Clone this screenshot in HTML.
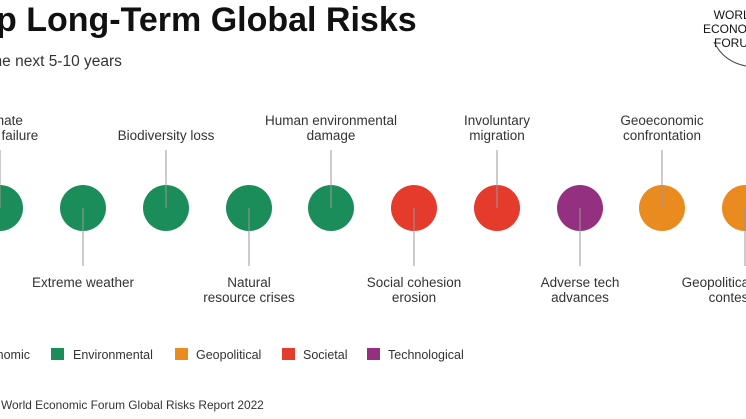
<!DOCTYPE html>
<html><head><meta charset="utf-8"><style>
html,body{margin:0;padding:0;background:#fff;overflow:hidden}
svg{display:block;font-family:"Liberation Sans",Arial,sans-serif}
</style></head><body>
<svg width="746" height="419" viewBox="0 0 746 419" xmlns="http://www.w3.org/2000/svg">
<text x="-43" y="31" font-size="34" font-weight="bold" fill="#111">Top Long-Term Global Risks</text>
<text x="-28" y="66" font-size="15.5" fill="#333">In the next 5-10 years</text>
<g font-size="12" fill="#111" text-anchor="middle">
<text x="736" y="19">WORLD</text><text x="736" y="33">ECONOMIC</text><text x="736" y="47">FORUM</text>
</g>
<path d="M714 42 Q724 62 746 66" stroke="#444" fill="none" stroke-width="1"/>
<g>
<circle cx="0" cy="208" r="23" fill="#1b8d5b"/>
<circle cx="83" cy="208" r="23" fill="#1b8d5b"/>
<circle cx="166" cy="208" r="23" fill="#1b8d5b"/>
<circle cx="249" cy="208" r="23" fill="#1b8d5b"/>
<circle cx="331" cy="208" r="23" fill="#1b8d5b"/>
<circle cx="414" cy="208" r="23" fill="#e43b2d"/>
<circle cx="497" cy="208" r="23" fill="#e43b2d"/>
<circle cx="580" cy="208" r="23" fill="#93307f"/>
<circle cx="662" cy="208" r="23" fill="#e98b1f"/>
<circle cx="745" cy="208" r="23" fill="#e98b1f"/>
</g>
<g stroke="#999" stroke-width="1">
<line x1="166" y1="150" x2="166" y2="208"/><line x1="331" y1="150" x2="331" y2="208"/>
<line x1="497" y1="150" x2="497" y2="208"/><line x1="662" y1="150" x2="662" y2="208"/>
<line x1="0" y1="150" x2="0" y2="208"/>
<line x1="83" y1="208" x2="83" y2="266"/><line x1="249" y1="208" x2="249" y2="266"/>
<line x1="414" y1="208" x2="414" y2="266"/><line x1="580" y1="208" x2="580" y2="266"/>
<line x1="745" y1="208" x2="745" y2="266"/>
</g>
<g font-size="13.5" fill="#333" text-anchor="middle">
<text x="0" y="125">Climate</text><text x="0" y="140">action failure</text>
<text x="166" y="140">Biodiversity loss</text>
<text x="331" y="125">Human environmental</text><text x="331" y="140">damage</text>
<text x="497" y="125">Involuntary</text><text x="497" y="140">migration</text>
<text x="662" y="125">Geoeconomic</text><text x="662" y="140">confrontation</text>
<text x="83" y="287">Extreme weather</text>
<text x="249" y="287">Natural</text><text x="249" y="302">resource crises</text>
<text x="414" y="287">Social cohesion</text><text x="414" y="302">erosion</text>
<text x="580" y="287">Adverse tech</text><text x="580" y="302">advances</text>
<text x="745" y="287">Geopolitical resource</text><text x="745" y="302">contestation</text>
</g>
<g font-size="12.5" fill="#333">
<text x="30" y="359" text-anchor="end">Economic</text>
<rect x="51" y="348" width="13" height="12" fill="#1b8d5b"/><text x="73" y="359">Environmental</text>
<rect x="175" y="348" width="13" height="12" fill="#e98b1f"/><text x="196" y="359">Geopolitical</text>
<rect x="282" y="348" width="13" height="12" fill="#e43b2d"/><text x="303" y="359">Societal</text>
<rect x="367" y="348" width="13" height="12" fill="#93307f"/><text x="388" y="359">Technological</text>
<text x="1" y="409" font-size="11.9">World Economic Forum Global Risks Report 2022</text>
</g>
</svg>
</body></html>
